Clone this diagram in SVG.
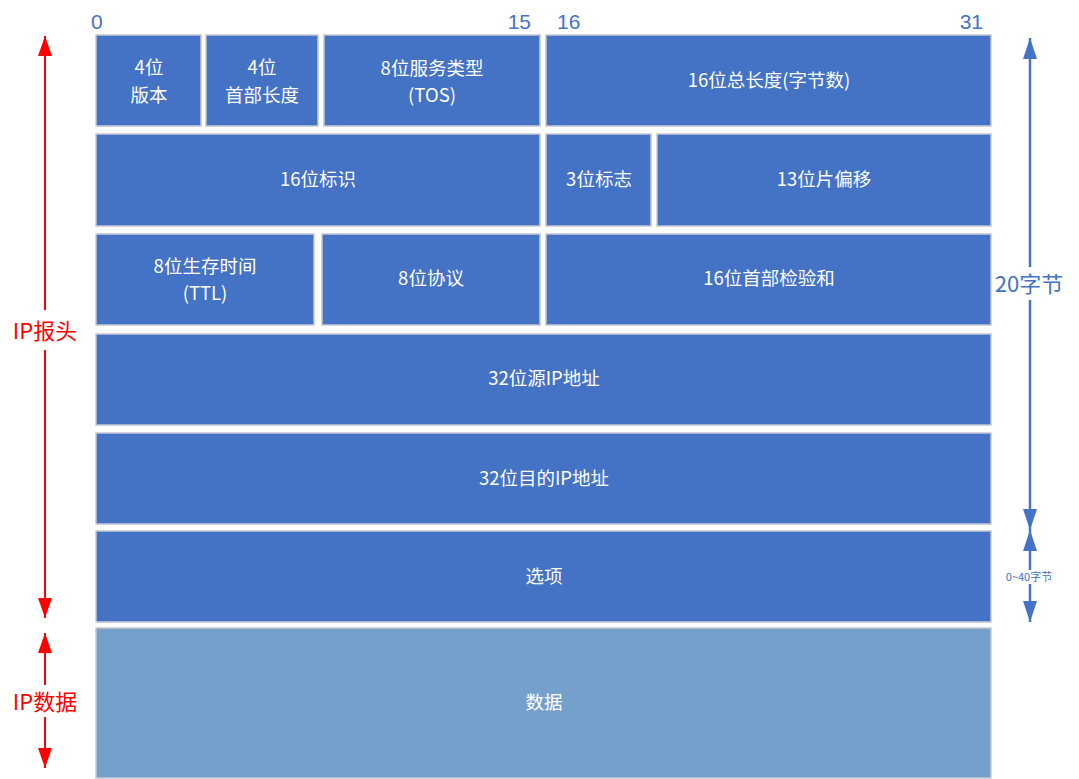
<svg xmlns="http://www.w3.org/2000/svg" width="1079" height="779" viewBox="0 0 1079 779">
<defs>
<style>
.b{fill:#4472C4;stroke:#C3C8D2;stroke-width:1.5}
.d{fill:#75A0CB;stroke:#C3C8D2;stroke-width:1.5}
.t{fill:#FFFFFF;font-family:"Noto Sans CJK SC","Liberation Sans",sans-serif;font-size:18.5px;text-anchor:middle;dominant-baseline:central}
.n{fill:#4472C4;font-family:"Liberation Sans","Noto Sans",sans-serif;font-size:21px}
.r{fill:#FF0000;font-family:"Noto Sans CJK SC",sans-serif;font-size:22px;text-anchor:middle;dominant-baseline:central}
.bl{fill:#4472C4;font-family:"Noto Sans CJK SC",sans-serif;text-anchor:middle;dominant-baseline:central}
.rl{stroke:#FF0000;stroke-width:2;fill:none}
.ul{stroke:#4472C4;stroke-width:2.5;fill:none}
</style>
<marker id="ba" viewBox="0 0 21 14" refX="21" refY="7" markerWidth="21" markerHeight="14" markerUnits="userSpaceOnUse" orient="auto"><path d="M0,0 L21,7 L0,14 Z" fill="#4472C4"/></marker>
<marker id="ra2" viewBox="0 0 20 14" refX="20" refY="7" markerWidth="20" markerHeight="14" markerUnits="userSpaceOnUse" orient="auto"><path d="M0,0 L20,7 L0,14 Z" fill="#FF0000"/></marker>
</defs>
<rect width="1079" height="779" fill="#FFFFFF"/>
<g id="bit-labels">
<text class="n" x="91" y="29">0</text>
<text class="n" x="531" y="29" text-anchor="end">15</text>
<text class="n" x="557" y="29">16</text>
<text class="n" x="983" y="29" text-anchor="end">31</text>
</g>
<g id="version"><rect class="b" x="96" y="35" width="105" height="91"/><text class="t" x="149" y="66">4位</text><text class="t" x="149" y="94">版本</text></g>
<g id="ihl"><rect class="b" x="206" y="35" width="112" height="91"/><text class="t" x="262" y="66">4位</text><text class="t" x="262" y="94">首部长度</text></g>
<g id="tos"><rect class="b" x="324" y="35" width="216" height="91"/><text class="t" x="432" y="67">8位服务类型</text><text class="t" x="432" y="94">(TOS)</text></g>
<g id="total-length"><rect class="b" x="546" y="35" width="445" height="91"/><text class="t" x="769" y="79">16位总长度(字节数)</text></g>
<g id="identification"><rect class="b" x="96" y="134" width="444" height="92"/><text class="t" x="318" y="178">16位标识</text></g>
<g id="flags"><rect class="b" x="546" y="134" width="105" height="92"/><text class="t" x="599" y="178">3位标志</text></g>
<g id="fragment-offset"><rect class="b" x="657" y="134" width="334" height="92"/><text class="t" x="824" y="178">13位片偏移</text></g>
<g id="ttl"><rect class="b" x="96" y="234" width="218" height="91"/><text class="t" x="205" y="265">8位生存时间</text><text class="t" x="205" y="292">(TTL)</text></g>
<g id="protocol"><rect class="b" x="322" y="234" width="218" height="91"/><text class="t" x="431" y="277">8位协议</text></g>
<g id="checksum"><rect class="b" x="546" y="234" width="445" height="91"/><text class="t" x="769" y="277">16位首部检验和</text></g>
<g id="src"><rect class="b" x="96" y="334" width="895" height="91"/><text class="t" x="544" y="377">32位源IP地址</text></g>
<g id="dst"><rect class="b" x="96" y="433" width="895" height="91"/><text class="t" x="544" y="477">32位目的IP地址</text></g>
<g id="options"><rect class="b" x="96" y="531" width="895" height="91"/><text class="t" x="544" y="575">选项</text></g>
<g id="data"><rect class="d" x="96" y="628" width="895" height="150"/><text class="t" x="544" y="701">数据</text></g>
<g id="connectors">
<line class="rl" x1="45" y1="310" x2="45" y2="36" marker-end="url(#ra2)"/>
<line class="rl" x1="45" y1="350" x2="45" y2="618" marker-end="url(#ra2)"/>
<line class="rl" x1="45" y1="685" x2="45" y2="633" marker-end="url(#ra2)"/>
<line class="rl" x1="45" y1="717" x2="45" y2="768" marker-end="url(#ra2)"/>
<line class="ul" x1="1030" y1="267" x2="1030" y2="38" marker-end="url(#ba)"/>
<line class="ul" x1="1030" y1="300" x2="1030" y2="530" marker-end="url(#ba)"/>
<line class="ul" x1="1030" y1="570" x2="1030" y2="530" marker-end="url(#ba)"/>
<line class="ul" x1="1030" y1="584" x2="1030" y2="622" marker-end="url(#ba)"/>
</g>
<g id="labels">
<text class="r" x="45" y="329">IP报头</text>
<text class="r" x="45" y="700">IP数据</text>
<text class="bl" x="1029" y="282" font-size="22">20字节</text>
<text class="bl" x="1029" y="576" font-size="11">0~40字节</text>
</g>
</svg>
